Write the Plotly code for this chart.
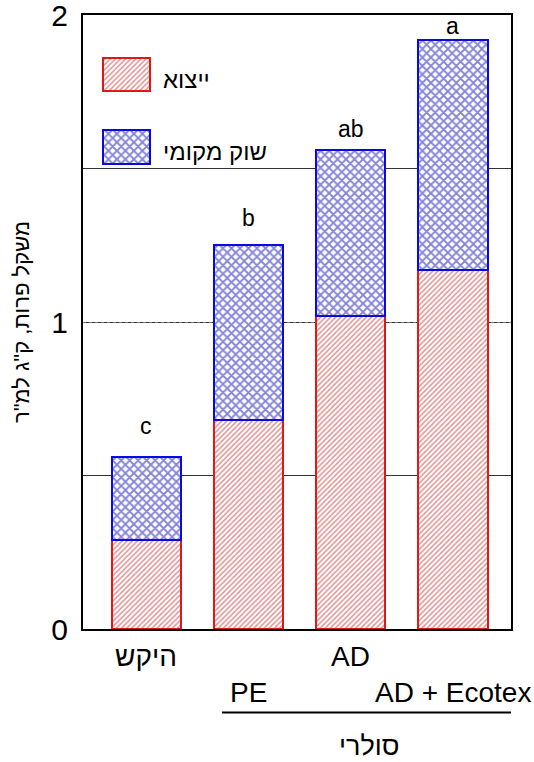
import plotly.graph_objects as go

# Fruit yield per treatment, kg per m2
treatments = ["היקש", "PE", "AD", "AD + Ecotex"]
export_yield = [0.29, 0.68, 1.02, 1.17]
local_yield = [0.27, 0.57, 0.54, 0.75]
sig_letters = ["c", "b", "ab", "a"]

series_names = ["ייצוא", "שוק מקומי"]
y_title = 'משקל פרות, ק"ג למ"ר'
group_label = "סולרי"
y_ticks = [0, 1, 2]

FONT = "Liberation Sans, Arial, sans-serif"
RED = "#e01818"
BLUE = "#0a0ae0"

W, H = 534, 762
ML, MR, MT, MB = 83, 23, 15, 133
PW, PH = W - ML - MR, H - MT - MB

x_idx = list(range(len(treatments)))
red_pattern = dict(shape="/", fgcolor="#c42424", bgcolor="white", size=3.6, solidity=0.42)
blue_pattern = dict(shape="x", fgcolor="#0c0cb4", bgcolor="white", size=6, solidity=0.52)

fig = go.Figure()
fig.add_trace(go.Bar(
    x=x_idx, y=export_yield, name=series_names[0], width=0.68,
    marker=dict(color="white", pattern=red_pattern, line=dict(color=RED, width=2)),
    showlegend=False,
))
fig.add_trace(go.Bar(
    x=x_idx, y=local_yield, name=series_names[1], width=0.68,
    marker=dict(color="white", pattern=blue_pattern, line=dict(color=BLUE, width=2)),
    showlegend=False,
))

# Legend swatches drawn as bars on a pixel-scaled overlay axis
swatches = [
    dict(pattern=red_pattern, line=RED, y0=538, y1=571),
    dict(pattern=blue_pattern, line=BLUE, y0=465, y1=499),
]
for sw in swatches:
    fig.add_trace(go.Bar(
        xaxis="x2", yaxis="y2", orientation="h",
        y=[(sw["y0"] + sw["y1"]) / 2], x=[47], base=[20], width=[sw["y1"] - sw["y0"]],
        marker=dict(color="white", pattern=sw["pattern"], line=dict(color=sw["line"], width=1.5)),
        showlegend=False, hoverinfo="skip",
    ))

annotations = []
for name, yc in zip(series_names, [554, 482]):
    annotations.append(dict(
        xref="x2", yref="y2", x=78, y=yc - 4, text=name, showarrow=False,
        xanchor="left", yanchor="middle", font=dict(family=FONT, size=24, color="black"),
    ))

# Significance letters above each stacked bar
letter_shift = [16, 12, 6, -1]
for i, (e, l, s) in enumerate(zip(export_yield, local_yield, sig_letters)):
    annotations.append(dict(
        x=i, y=e + l, text=s, showarrow=False, yanchor="bottom", yshift=letter_shift[i],
        font=dict(family=FONT, size=23, color="black"),
    ))

# Category labels in two staggered rows
row_y = [-0.044, -0.103]
for i, t in enumerate(treatments):
    annotations.append(dict(
        x=i, xref="x", yref="paper", y=row_y[i % 2], text=t, showarrow=False,
        yanchor="middle", font=dict(family=FONT, size=28, color="black"),
    ))
annotations.append(dict(
    x=2.18, xref="x", yref="paper", y=-0.191, text=group_label, showarrow=False,
    yanchor="middle", font=dict(family=FONT, size=27, color="black"),
))
annotations.append(dict(
    x=-0.145, xref="paper", yref="paper", y=0.5, text=y_title, showarrow=False,
    textangle=-90, xanchor="center", yanchor="middle",
    font=dict(family=FONT, size=22, color="black"),
))

fig.update_layout(
    width=W, height=H,
    margin=dict(l=ML, r=MR, t=MT, b=MB, autoexpand=False),
    paper_bgcolor="white", plot_bgcolor="white",
    barmode="stack",
    annotations=annotations,
    shapes=[dict(
        type="line", xref="x", yref="paper", x0=0.74, x1=3.6, y0=-0.136, y1=-0.136,
        line=dict(color="black", width=2),
    )],
    xaxis=dict(
        range=[-0.62, 3.57], showticklabels=False, ticks="", showgrid=False, zeroline=False,
        showline=True, linecolor="black", linewidth=2, mirror=True, automargin=False,
    ),
    yaxis=dict(
        range=[0, 2], tickvals=y_ticks, ticks="", ticklabelstandoff=7, automargin=False,
        ticklabeloverflow="allow",
        tickfont=dict(family=FONT, size=30, color="black"),
        showgrid=True, gridcolor="#777777", griddash="dot", gridwidth=1,
        minor=dict(dtick=0.5, showgrid=True, gridcolor="#333333", gridwidth=1, griddash="solid"),
        zeroline=False, showline=True, linecolor="black", linewidth=2, mirror=True,
    ),
    xaxis2=dict(overlaying="x", range=[0, PW], visible=False, fixedrange=True),
    yaxis2=dict(overlaying="y", range=[0, PH], visible=False, fixedrange=True),
)

fig.write_html("out.html")
